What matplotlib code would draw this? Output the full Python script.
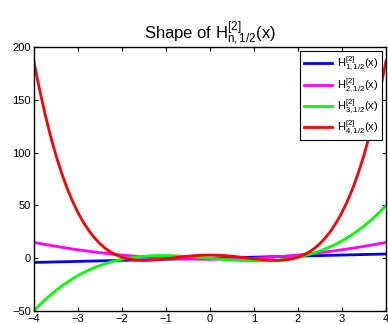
import numpy as np
import matplotlib
matplotlib.use('Agg')
import matplotlib.pyplot as plt

plt.rcParams['font.family'] = ['Liberation Sans', 'DejaVu Sans']
plt.rcParams['mathtext.fontset'] = 'custom'
plt.rcParams['mathtext.rm'] = 'Liberation Sans'
plt.rcParams['mathtext.it'] = 'Liberation Sans'

# values
x_coarse = np.arange(-4, 4.001, 0.25)
x_fine = np.arange(-4, 4.001, 0.125)

h1_half = [-4.0, -3.75, -3.5, -3.25, -3.0, -2.75, -2.5, -2.25, -2.0, -1.75, -1.5,
           -1.25, -1.0, -0.75, -0.5, -0.25, 0.0, 0.25, 0.5, 0.75, 1.0, 1.25,
           1.5, 1.75, 2.0, 2.25, 2.5, 2.75, 3.0, 3.25, 3.5, 3.75, 4.0]
h2_half = [15.0, 13.1, 11.3, 9.6, 8.0, 6.6, 5.3, 4.1, 3.0, 2.1, 1.3, 0.6, 0.0,
           -0.4, -0.75, -0.9, -1.0, -0.9, -0.75, -0.4, 0.0, 0.6, 1.3, 2.1, 3.0,
           4.1, 5.3, 6.6, 8.0, 9.6, 11.3, 13.1, 15.0]
h3_half = [-50.0, -44.6, -39.6, -34.9, -30.6, -26.6, -23.0, -19.6, -16.5, -13.7,
           -11.2, -8.9, -6.9, -5.1, -3.5, -2.2, -1.0, 0.0, 0.8, 1.4, 1.9, 2.2,
           2.4, 2.5, 2.5, 2.4, 2.2, 1.9, 1.6, 1.3, 0.9, 0.4, 0.0,
           -0.4, -0.9, -1.3, -1.6, -1.9, -2.2, -2.4, -2.5, -2.5, -2.4, -2.2,
           -1.9, -1.4, -0.8, 0.0, 1.0, 2.2, 3.5, 5.1, 6.9, 8.9, 11.2, 13.7,
           16.5, 19.6, 23.0, 26.6, 30.6, 34.9, 39.6, 44.6, 50.0]
h4_half = [187.0, 160.9, 137.5, 116.5, 97.9, 81.5, 67.0, 54.4, 43.5, 34.1, 26.2,
           19.5, 13.9, 9.4, 5.8, 3.1, 1.0, -0.5, -1.4, -1.9, -2.1, -1.9, -1.6,
           -1.1, -0.5, 0.1, 0.8, 1.4, 1.9, 2.4, 2.7, 2.9, 3.0,
           2.9, 2.7, 2.4, 1.9, 1.4, 0.8, 0.1, -0.5, -1.1, -1.6, -1.9, -2.1,
           -1.9, -1.4, -0.5, 1.0, 3.1, 5.8, 9.4, 13.9, 19.5, 26.2, 34.1, 43.5,
           54.4, 67.0, 81.5, 97.9, 116.5, 137.5, 160.9, 187.0]

labels = [r'$\mathrm{H^{[2]}_{1,1/2}(x)}$', r'$\mathrm{H^{[2]}_{2,1/2}(x)}$',
          r'$\mathrm{H^{[2]}_{3,1/2}(x)}$', r'$\mathrm{H^{[2]}_{4,1/2}(x)}$']
colors = ['#0000ff', '#ff00ff', '#00ff00', '#ff0000']
series = [(x_coarse, h1_half), (x_coarse, h2_half), (x_fine, h3_half), (x_fine, h4_half)]

fig = plt.figure(figsize=(3.88, 3.24), dpi=100)
ax = fig.add_axes([0.087, 0.04, 0.908, 0.815])

for (xs, y), lab, c in zip(series, labels, colors):
    ax.plot(xs, y, color=c, lw=2, label=lab)

ax.set_xlim(-4, 4)
ax.set_ylim(-50, 200)
ax.set_xticks(np.arange(-4, 5, 1))
ax.set_yticks(np.arange(-50, 201, 50))
ax.tick_params(direction='in', top=True, right=True, labelsize=8, length=3,
               width=0.8, pad=2)
for s in ax.spines.values():
    s.set_linewidth(1.0)

ax.set_title(r'Shape of $\mathrm{H^{[2]}_{n,1/2}(x)}$', fontsize=12, pad=6)

leg = ax.legend(loc='upper right', fontsize=8, handlelength=2.6,
                fancybox=False, edgecolor='black', framealpha=1,
                borderaxespad=0.4, labelspacing=0.25, handletextpad=0.4,
                borderpad=0.3)
leg.get_frame().set_linewidth(0.8)

fig.savefig('out.png', dpi=100)
